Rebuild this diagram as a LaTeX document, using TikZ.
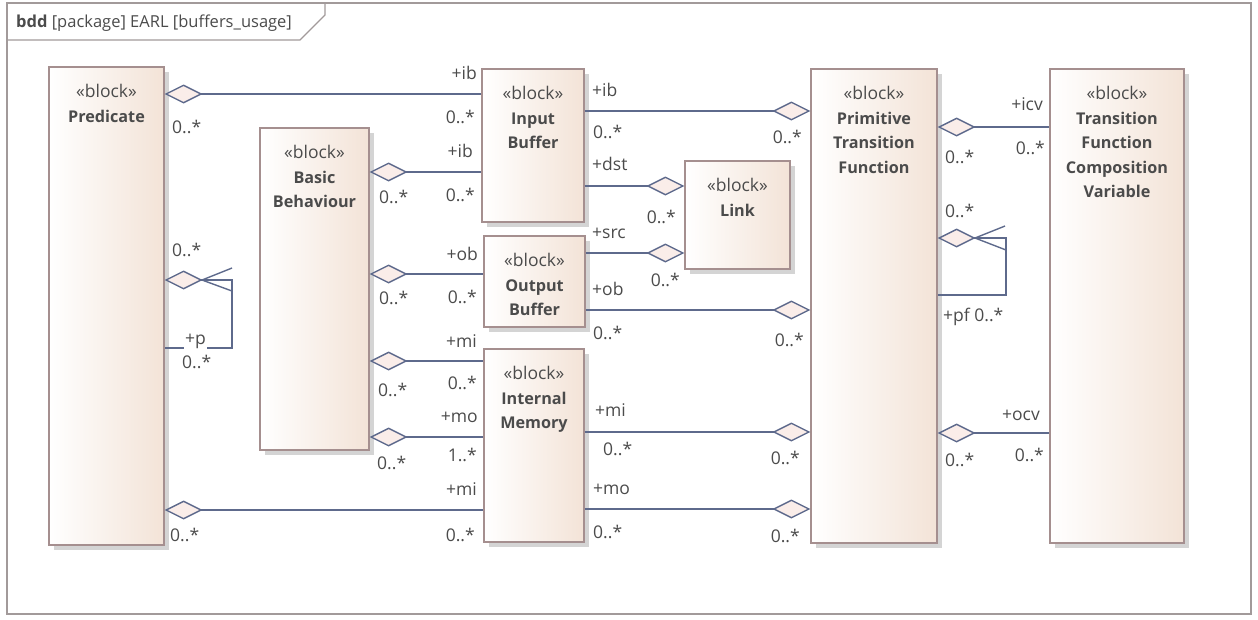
\documentclass[tikz,border=0pt]{standalone}
\usepackage{fontspec}
\setmainfont{Open Sans}
\usetikzlibrary{arrows.meta,shadows}
\definecolor{blkdraw}{HTML}{A58F8F}
\definecolor{blkfill}{HTML}{F3E3D7}
\definecolor{linecol}{HTML}{5E6A8C}
\definecolor{diafill}{HTML}{FAEDE9}
\definecolor{txtcol}{HTML}{4B4B4B}
\definecolor{framecol}{HTML}{A29A9A}
\newcommand{\lblfont}{\fontsize{17.5}{24.5}\selectfont}
\newcommand{\blkname}[1]{{\fontsize{16.2}{24.5}\selectfont\bfseries #1}}

\begin{document}
\begin{tikzpicture}[x=1pt,y=-1pt,
  block/.style={draw=blkdraw, line width=1.2pt, left color=white, right color=blkfill,
    drop shadow={opacity=1, fill=black!17, shadow xshift=5pt, shadow yshift=-5pt}, inner sep=0pt},
  blocktext/.style={anchor=north, align=center, text=txtcol, font=\lblfont, inner sep=0pt, yshift=-18pt},
  assoc/.style={draw=linecol, line width=1.4pt},
  agg/.style={{Diamond[length=38pt,width=19pt,fill=diafill]}-},
  aggend/.style={-{Diamond[length=38pt,width=19pt,fill=diafill]}},
  mult/.style={text=txtcol, font=\lblfont, inner sep=0pt, text height=12pt, text depth=0pt}]
\useasboundingbox (0,0) rectangle (1258,619);

% frame
\draw[framecol, line width=1.5pt] (7,3) rectangle (1251,614);
\draw[framecol, line width=1.2pt] (7,40) -- (300,40) -- (325,15) -- (325,3);
\node[mult, anchor=west, font=\fontsize{16.5}{20}\selectfont] (title) at (16,21) {\textbf{bdd} [package] EARL [buffers\_usage]};

% blocks
\node[block, minimum width=115pt, minimum height=478pt] (pred) at (106.5,306) {};
\node[block, minimum width=109pt, minimum height=322pt] (bb) at (314.5,289) {};
\node[block, minimum width=102pt, minimum height=153pt] (ib) at (533,145.5) {};
\node[block, minimum width=101pt, minimum height=91pt] (ob) at (534.5,281.5) {};
\node[block, minimum width=105pt, minimum height=108pt] (link) at (737.5,215) {};
\node[block, minimum width=100pt, minimum height=193pt] (im) at (534,445.5) {};
\node[block, minimum width=126pt, minimum height=474pt] (ptf) at (874,306) {};
\node[block, minimum width=134pt, minimum height=474pt] (tfcv) at (1117,306) {};

\node[blocktext] at (pred.north) {«block»\\\blkname{Predicate}};
\node[blocktext] at (bb.north) {«block»\\\blkname{Basic}\\\blkname{Behaviour}};
\node[blocktext] at (ib.north) {«block»\\\blkname{Input}\\\blkname{Buffer}};
\node[blocktext] at (ob.north) {«block»\\\blkname{Output}\\\blkname{Buffer}};
\node[blocktext] at (link.north) {«block»\\\blkname{Link}};
\node[blocktext] at (im.north) {«block»\\\blkname{Internal}\\\blkname{Memory}};
\node[blocktext] at (ptf.north) {«block»\\\blkname{Primitive}\\\blkname{Transition}\\\blkname{Function}};
\node[blocktext] at (tfcv.north) {«block»\\\blkname{Transition}\\\blkname{Function}\\\blkname{Composition}\\\blkname{Variable}};

% associations
\draw[assoc, agg] (pred.east |- 0,94) -- (ib.west |- 0,94);
\draw[assoc, agg] (bb.east |- 0,172) -- (ib.west |- 0,172);
\draw[assoc, agg] (bb.east |- 0,274) -- (ob.west |- 0,274);
\draw[assoc, agg] (bb.east |- 0,361) -- (im.west |- 0,361);
\draw[assoc, agg] (bb.east |- 0,437) -- (im.west |- 0,437);
\draw[assoc, agg] (pred.east |- 0,510) -- (im.west |- 0,510);
\draw[assoc, aggend] (ib.east |- 0,111) -- (ptf.west |- 0,111);
\draw[assoc, aggend] (ib.east |- 0,186) -- (link.west |- 0,186);
\draw[assoc, aggend] (ob.east |- 0,253) -- (link.west |- 0,253);
\draw[assoc, aggend] (ob.east |- 0,310) -- (ptf.west |- 0,310);
\draw[assoc, aggend] (im.east |- 0,432) -- (ptf.west |- 0,432);
\draw[assoc, aggend] (im.east |- 0,509) -- (ptf.west |- 0,509);
\draw[assoc, agg] (ptf.east |- 0,127) -- (tfcv.west |- 0,127);
\draw[assoc, agg] (ptf.east |- 0,433) -- (tfcv.west |- 0,433);

% self loops
\coordinate (predtip) at (202,280);
\coordinate (ptftip) at (975,238);
\draw[assoc, agg] (pred.east |- 0,280) -| (232,348) -- (pred.east |- 0,348);
\draw[assoc] (232,268) -- (predtip) -- (232,291);
\draw[assoc, agg] (ptf.east |- 0,238) -| (1006,295) -- (ptf.east |- 0,295);
\draw[assoc] (1005,226) -- (ptftip) -- (1006,250);

% multiplicities and roles
\node[mult, anchor=west] at (172,127) {0..*};
\node[mult, anchor=east] at (477,73) {+ib};
\node[mult, anchor=east] at (475,117) {0..*};
\node[mult, anchor=west] at (379,197) {0..*};
\node[mult, anchor=east] at (473,151) {+ib};
\node[mult, anchor=east] at (475,195) {0..*};
\node[mult, anchor=west] at (379,298) {0..*};
\node[mult, anchor=east] at (478,254) {+ob};
\node[mult, anchor=east] at (477,297) {0..*};
\node[mult, anchor=west] at (378,390) {0..*};
\node[mult, anchor=east] at (477,341) {+mi};
\node[mult, anchor=east] at (477,383) {0..*};
\node[mult, anchor=west] at (377,463) {0..*};
\node[mult, anchor=east] at (478,416) {+mo};
\node[mult, anchor=east] at (477,455) {1..*};
\node[mult, anchor=west] at (170,535) {0..*};
\node[mult, anchor=east] at (477,489) {+mi};
\node[mult, anchor=east] at (475,535) {0..*};

\node[mult, anchor=west] at (592,90) {+ib};
\node[mult, anchor=west] at (593,132) {0..*};
\node[mult, anchor=east] at (802,137) {0..*};
\node[mult, anchor=west] at (592,164) {+dst};
\node[mult, anchor=east] at (676,217) {0..*};
\node[mult, anchor=west] at (592,232) {+src};
\node[mult, anchor=east] at (680,280) {0..*};
\node[mult, anchor=west] at (592,289) {+ob};
\node[mult, anchor=west] at (593,333) {0..*};
\node[mult, anchor=east] at (804,340) {0..*};
\node[mult, anchor=west] at (595,410) {+mi};
\node[mult, anchor=west] at (603,449) {0..*};
\node[mult, anchor=east] at (800,458) {0..*};
\node[mult, anchor=west] at (593,488) {+mo};
\node[mult, anchor=west] at (593,532) {0..*};
\node[mult, anchor=east] at (800,536) {0..*};

\node[mult, anchor=west] at (945,157) {0..*};
\node[mult, anchor=east] at (1043,104) {+icv};
\node[mult, anchor=east] at (1045,148) {0..*};
\node[mult, anchor=west] at (945,460) {0..*};
\node[mult, anchor=east] at (1040,414) {+ocv};
\node[mult, anchor=east] at (1044,455) {0..*};

\node[mult, anchor=west] at (172,250) {0..*};
\node[mult, anchor=west, fill=white, text depth=6pt, inner xsep=1pt] at (184,341) {+p};
\node[mult, anchor=west] at (182,362) {0..*};
\node[mult, anchor=west] at (945,211) {0..*};
\node[mult, anchor=west] at (943,315) {+pf 0..*};
\end{tikzpicture}
\end{document}
